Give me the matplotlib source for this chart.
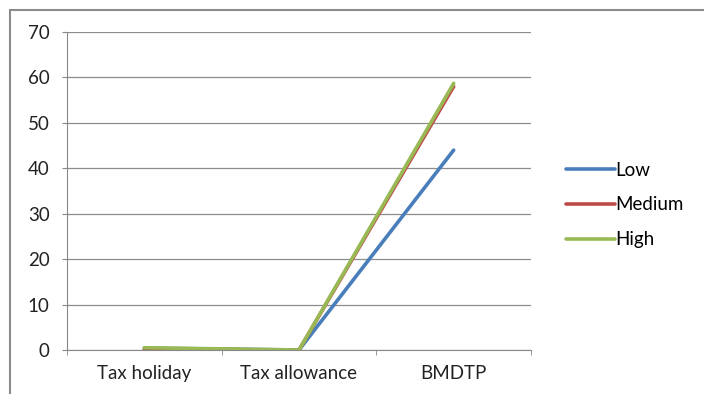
import matplotlib
matplotlib.use("Agg")
import matplotlib.pyplot as plt
from matplotlib.patches import Rectangle

categories = ["Tax holiday", "Tax allowance", "BMDTP"]
low = [0.4, 0.0, 44]
medium = [0.2, 0.0, 58]
high = [0.5, 0.0, 58.7]
series = [("Low", low, "#4a7ebb"), ("Medium", medium, "#be4b48"), ("High", high, "#98b954")]

plt.rcParams["font.family"] = ["Lato", "DejaVu Sans"]

W, H = 704, 394
fig = plt.figure(figsize=(W / 100, H / 100), dpi=100)
fig.patches.append(Rectangle((10 / W, -0.1), 1.0, 1 - 10 / H + 0.1, transform=fig.transFigure,
                             fill=False, edgecolor="#8c8c8c", linewidth=1.5))

ax = fig.add_axes([67 / W, 1 - 350 / H, (531 - 67) / W, (350 - 32) / H])
x = range(len(categories))
for name, vals, col in series:
    ax.plot(x, vals, color=col, linewidth=2.6, label=name, solid_capstyle="round")

ax.set_xlim(-0.5, 2.5)
ax.set_ylim(0, 70)
ax.set_yticks(range(0, 71, 10))
ax.set_xticks(list(x))
ax.set_xticklabels(categories)
ax.set_xticks([-0.5, 0.5, 1.5, 2.5], minor=True)
ax.tick_params(axis="x", which="major", length=0, pad=11, labelsize=13.5, colors="#222222")
ax.tick_params(axis="x", which="minor", length=3.5, color="#888888")
ax.tick_params(axis="y", length=3.5, color="#888888", labelsize=13.5, colors="#222222", pad=9)
ax.grid(axis="y", color="#8c8c8c", linewidth=0.9)
ax.set_axisbelow(True)
for s in ["top", "right"]:
    ax.spines[s].set_visible(False)
ax.spines["left"].set_color("#888888")
ax.spines["bottom"].set_color("#888888")

ax.legend(loc="center left", bbox_to_anchor=(549 / W, 1 - 205 / H), bbox_transform=fig.transFigure,
          frameon=False, fontsize=13.5, handlelength=2.6, handletextpad=0.05, labelspacing=0.95)

fig.savefig("out.png", dpi=100)
